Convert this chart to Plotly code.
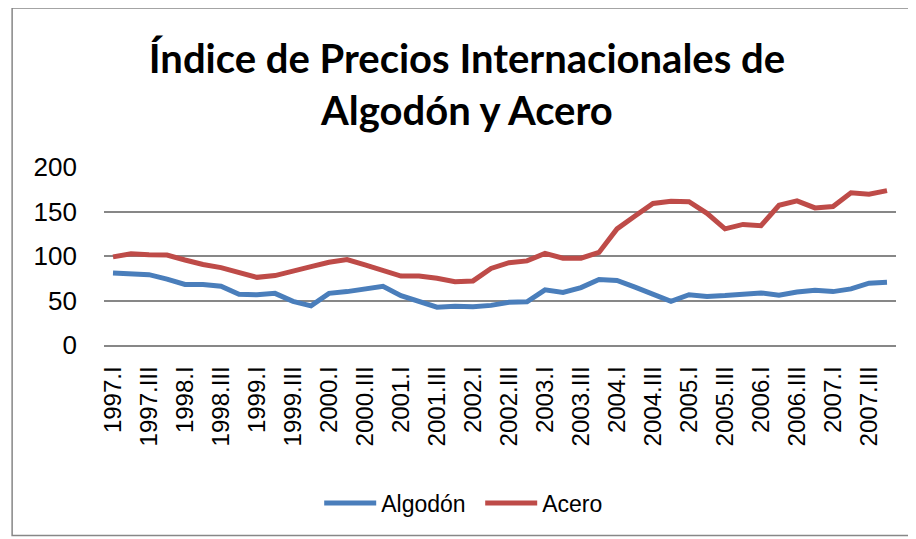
import plotly.graph_objects as go

# quarterly labels 1997.I .. 2007.IV
years = list(range(1997, 2008))
quarters = ['I', 'II', 'III', 'IV']
labels = [f'{y}.{q}' for y in years for q in quarters]

algodon = [81, 80.5, 79, 74, 68, 68, 66, 57, 56.5, 58,
           49, 44, 58, 60, 62.5, 66, 55.5, 49, 42.5, 43.5,
           43, 44.5, 48, 48.5, 62, 59, 64.5, 73.5, 72.5, 65,
           57.5, 49, 56.5, 54.5, 55.5, 57.5, 58.5, 56, 59.5, 61.5,
           60, 63, 69.5, 70.5]

acero = [99, 102.5, 101.5, 101, 95.5, 90.5, 87, 81, 76, 78,
         82.5, 88, 93, 96, 90, 84, 77.5, 77.5, 75, 71,
         72, 86, 92.5, 94.5, 103, 97.5, 97.5, 104, 130.5, 145,
         159, 161.5, 161, 148, 130.5, 135.5, 134, 157, 162, 154,
         155.5, 171, 169.5, 173.5]

fig = go.Figure()

fig.add_trace(go.Scatter(
    name='Algodón',
    x=labels,
    y=algodon,
    mode='lines',
    line=dict(color='#4A7EBB', width=5)
))

fig.add_trace(go.Scatter(
    name='Acero',
    x=labels,
    y=acero,
    mode='lines',
    line=dict(color='#BE4B48', width=5)
))

# chart frame
fig.add_shape(type='rect', xref='paper', yref='paper',
              x0=-0.116, x1=1.0227, y0=-1.07, y1=1.893,
              line=dict(color='#878787', width=1.5), layer='below')

fig.update_layout(
    width=916,
    height=539,
    margin=dict(l=96, r=28, t=159, b=202),
    plot_bgcolor='white',
    paper_bgcolor='white',
    font=dict(family='Liberation Sans, Arial', size=22, color='black'),
    title=dict(text='Índice de Precios Internacionales de<br>Algodón y Acero',
               x=0.501, xanchor='center', y=0.88, yanchor='middle',
               xref='container', yref='container',
               font=dict(family='Lato', size=40, color='black', weight='bold')),
    xaxis=dict(
        type='category',
        tickvals=labels[::2],
        tickangle=-90,
        showgrid=False,
        showline=True,
        linecolor='#878787',
        linewidth=1.5,
        ticks='',
        ticklabelstandoff=10,
        range=[-0.5, len(labels) - 0.5],
        tickfont=dict(size=24)
    ),
    yaxis=dict(
        range=[0, 200],
        dtick=50,
        showgrid=True,
        gridcolor='#878787',
        gridwidth=1.5,
        zeroline=False,
        ticks='',
        ticklabelstandoff=26,
        tickfont=dict(size=26)
    ),
    legend=dict(orientation='h', x=0.475, xanchor='center',
                y=-0.888, yanchor='middle', itemwidth=52,
                entrywidth=94,
                font=dict(size=23)),
    showlegend=True
)

fig.write_html('out.html')
